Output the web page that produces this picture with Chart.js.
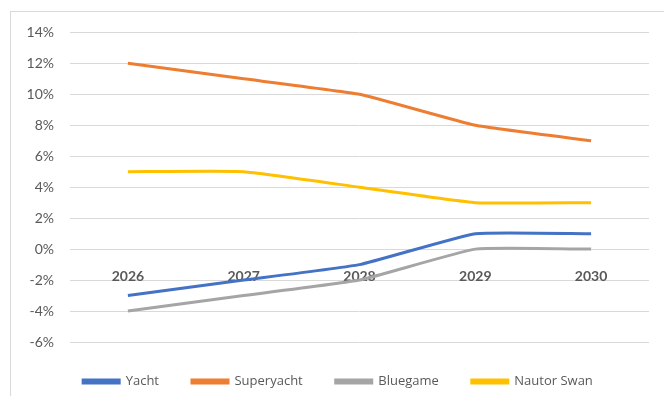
<!DOCTYPE html>
<html lang="en">
<head>
<meta charset="UTF-8">
<title>Growth by brand</title>
<script src="https://cdn.jsdelivr.net/npm/chart.js@4.4.1/dist/chart.umd.min.js"></script>
<style>
  body { margin: 0; background: #fff; overflow: hidden; }
  .box {
    position: absolute; left: 10px; top: 11px;
    width: 654px; height: 385px;
    border-top: 1px solid #d9d9d9; border-left: 1px solid #d9d9d9;
  }
  canvas { position: absolute; left: 11px; top: 8px; }
</style>
</head>
<body>
<div class="box"></div>
<canvas id="lineChart" width="653" height="390"></canvas>
<script>
  // data
  var years = ['2026', '2027', '2028', '2029', '2030'];
  var yacht = [-3, -2, -1, 1, 1];
  var superyacht = [12, 11, 10, 8, 7];
  var bluegame = [-4, -3, -2, 0, 0];
  var nautorSwan = [5, 5, 4, 3, 3];

  var font = 'Lato, "Open Sans", sans-serif';

  function series(label, values, color) {
    return {
      label: label,
      data: values,
      borderColor: color,
      backgroundColor: color,
      borderWidth: 3,
      pointRadius: 0,
      tension: 0.12
    };
  }

  // legend sits a little right of centre in the original
  var legendShift = {
    id: 'legendShift',
    afterLayout: function (chart) {
      chart.legend.left += 8;
      chart.legend.right += 8;
    }
  };

  var ctx = document.getElementById('lineChart').getContext('2d');
  new Chart(ctx, {
    type: 'line',
    data: {
      labels: years,
      datasets: [
        series('Yacht', yacht, '#4472C4'),
        series('Superyacht', superyacht, '#ED7D31'),
        series('Bluegame', bluegame, '#A5A5A5'),
        series('Nautor Swan', nautorSwan, '#FFC000')
      ]
    },
    plugins: [legendShift],
    options: {
      responsive: false,
      animation: false,
      layout: { padding: { top: 0, right: 15, left: 0, bottom: 0 } },
      plugins: {
        tooltip: { enabled: false },
        legend: {
          position: 'bottom',
          labels: {
            boxWidth: 36,
            boxHeight: 3,
            padding: 33,
            color: '#595959',
            font: { family: '"Open Sans", sans-serif', size: 13 }
          }
        }
      },
      scales: {
        x: {
          offset: true,
          position: { y: 0 },
          grid: { display: false },
          border: { display: false },
          ticks: {
            color: '#595959',
            padding: 11,
            font: { family: font, size: 14, weight: 'bold' }
          }
        },
        y: {
          min: -6,
          max: 14,
          afterFit: function (scale) { scale.width = 59; },
          grid: { color: '#d9d9d9', lineWidth: 1, drawTicks: false },
          border: { display: false },
          ticks: {
            stepSize: 2,
            padding: 16,
            color: '#595959',
            font: { family: font, size: 14 },
            callback: function (v) { return v + '%'; }
          }
        }
      }
    }
  });
</script>
</body>
</html>
